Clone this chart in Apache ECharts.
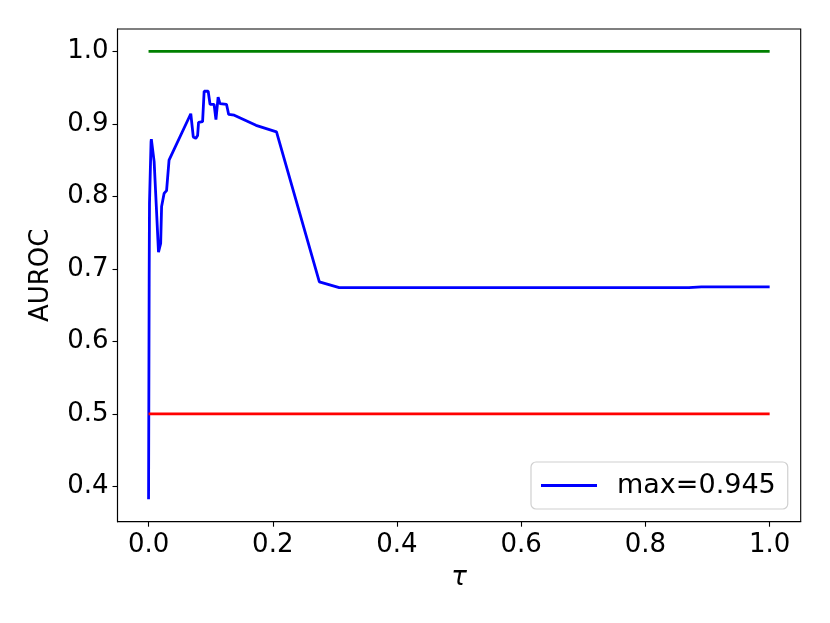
<!DOCTYPE html>
<html>
<head>
<meta charset="utf-8">
<script src="https://cdn.jsdelivr.net/npm/echarts@6/dist/echarts.min.js"></script>
<style>html,body{margin:0;padding:0;background:#fff}#c{width:830px;height:623px}</style>
</head>
<body>
<div id="c"></div>
<script>
// tau values and AUROC values of the blue curve
var tau = [0, 0.001, 0.0015, 0.004, 0.0045, 0.0075, 0.009, 0.0115, 0.0125, 0.016, 0.0195, 0.021, 0.025, 0.029, 0.032, 0.033, 0.068, 0.072, 0.076, 0.079, 0.0805, 0.087, 0.0895, 0.096, 0.099, 0.1055, 0.1085, 0.112, 0.115, 0.1255, 0.129, 0.138, 0.173, 0.206, 0.275, 0.307, 0.87, 0.89, 1.0];
var auroc = [0.382, 0.69, 0.79, 0.875, 0.879, 0.879, 0.848, 0.848, 0.786, 0.723, 0.735, 0.786, 0.804, 0.808, 0.806, 0.85, 0.914, 0.882, 0.880, 0.884, 0.902, 0.903, 0.945, 0.945, 0.927, 0.927, 0.906, 0.937, 0.928, 0.927, 0.913, 0.912, 0.898, 0.889, 0.682, 0.674, 0.674, 0.675, 0.675];
var upperTau = [0, 1];
var upperVal = [1.0, 1.0];
var lowerTau = [0, 1];
var lowerVal = [0.5, 0.5];
var xTicks = [0, 0.2, 0.4, 0.6, 0.8, 1.0];
var yTicks = [0.4, 0.5, 0.6, 0.7, 0.8, 0.9, 1.0];
var legendLabel = 'max=0.945';

function zip(a, b) { return a.map(function (v, i) { return [v, b[i]]; }); }

var FONT = 'DejaVu Sans';
var FS = 26;
var chart = echarts.init(document.getElementById('c'), null, {renderer: 'canvas'});
chart.setOption({
  animation: false,
  backgroundColor: '#fff',
  grid: {left: 117.5, right: 29.3, top: 29, bottom: 101.3, show: true, borderColor: '#000', borderWidth: 1.1, backgroundColor: 'transparent'},
  legend: {
    data: [{name: legendLabel, icon: 'rect'}],
    left: 531, top: 462,
    itemWidth: 56, itemHeight: 3,
    padding: [10, 12, 10, 10],
    borderColor: '#d0d0d0', borderWidth: 1.2, borderRadius: 5,
    backgroundColor: 'rgba(255,255,255,0.8)',
    textStyle: {fontFamily: FONT, fontSize: 27, color: '#000', padding: [0, 0, 0, 15], lineHeight: 27}
  },
  xAxis: {
    type: 'value', min: -0.05, max: 1.05,
    name: 'τ', nameLocation: 'middle', nameGap: 44,
    nameTextStyle: {fontFamily: FONT, fontSize: FS, fontStyle: 'italic', color: '#000'},
    axisLine: {show: true, onZero: false, lineStyle: {color: '#000', width: 1.1}},
    axisTick: {show: true, length: 5, lineStyle: {color: '#000', width: 1.1}, customValues: xTicks},
    axisLabel: {show: true, margin: 11, fontFamily: FONT, fontSize: FS, color: '#000', customValues: xTicks, formatter: function (v) { return v.toFixed(1); }},
    splitLine: {show: false}
  },
  yAxis: {
    type: 'value', min: 0.3511, max: 1.0309,
    name: 'AUROC', nameLocation: 'middle', nameGap: 63,
    nameTextStyle: {fontFamily: FONT, fontSize: FS, color: '#000'},
    axisLine: {show: true, onZero: false, lineStyle: {color: '#000', width: 1.1}},
    axisTick: {show: true, length: 5, lineStyle: {color: '#000', width: 1.1}, customValues: yTicks},
    axisLabel: {show: true, margin: 9, fontFamily: FONT, fontSize: FS, color: '#000', customValues: yTicks, formatter: function (v) { return v.toFixed(1); }},
    splitLine: {show: false}
  },
  series: [
    {name: legendLabel, type: 'line', data: zip(tau, auroc), symbol: 'none', lineStyle: {color: '#0000ff', width: 2.8}, itemStyle: {color: '#0000ff'}, z: 2},
    {name: 'upper', type: 'line', data: zip(upperTau, upperVal), symbol: 'none', lineStyle: {color: '#008000', width: 2.8}, z: 3},
    {name: 'lower', type: 'line', data: zip(lowerTau, lowerVal), symbol: 'none', lineStyle: {color: '#ff0000', width: 2.8}, z: 3}
  ]
});
</script>
</body>
</html>
